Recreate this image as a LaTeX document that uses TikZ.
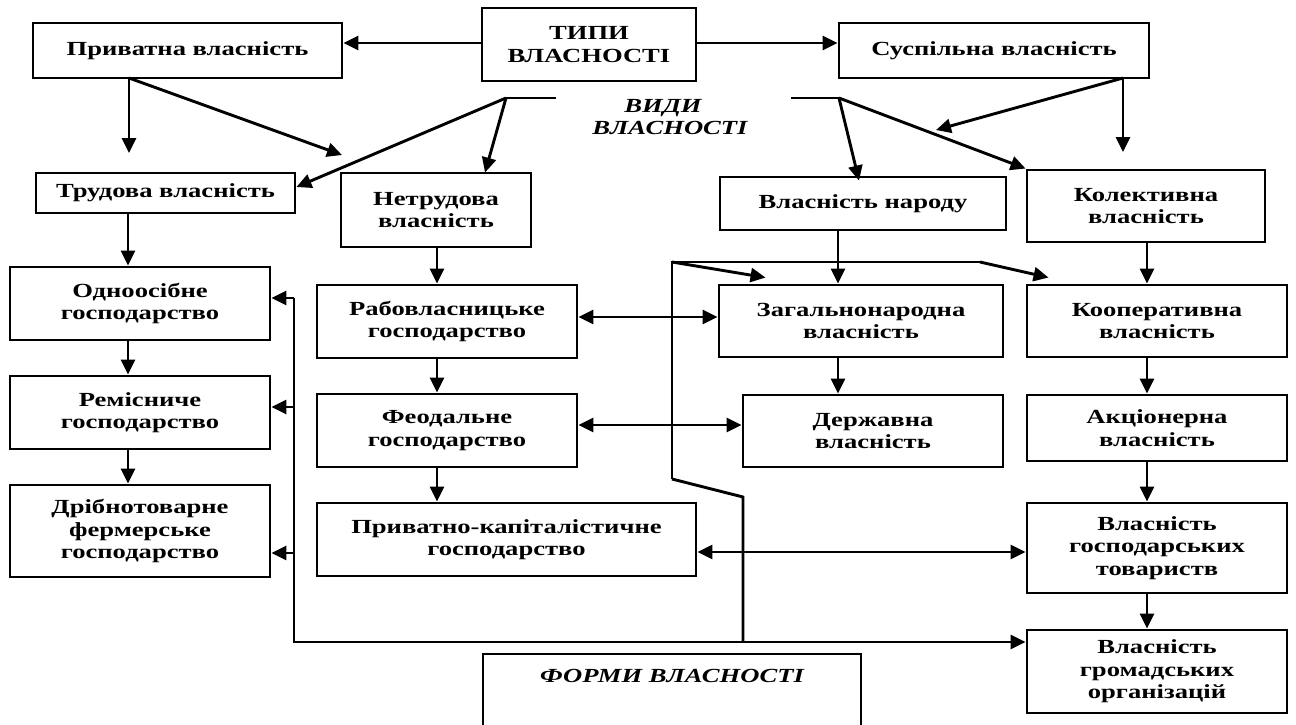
\documentclass[tikz,border=0pt]{standalone}
\usepackage{fontspec}
\setmainfont{Liberation Serif}[FakeStretch=1.33]
\usetikzlibrary{arrows.meta,calc}
\begin{document}
\begin{tikzpicture}[x=1pt,y=-1pt,
  box/.style={draw, line width=2.9pt, align=center, inner sep=2pt,
    font=\bfseries\fontsize{20}{22.5}\selectfont},
  lbl/.style={align=center, font=\bfseries\itshape\fontsize{20}{22.5}\selectfont},
  ln/.style={line width=2.9pt},
  arr/.style={line width=2.9pt, -{Triangle[length=15pt,width=14pt]}},
  darr/.style={line width=2.9pt, {Triangle[length=15pt,width=14pt]}-{Triangle[length=15pt,width=14pt]}}]
\useasboundingbox (0,0) rectangle (1296,724);
% boxes
\node[box, minimum width=309pt, minimum height=55pt] (prv) at (187.5,50.5) {Приватна власність};
\node[box, minimum width=214pt, minimum height=73pt] (types) at (589,44.5) {ТИПИ\\ВЛАСНОСТІ};
\node[box, minimum width=310pt, minimum height=55pt] (sus) at (994,50.5) {Суспільна власність};
\node[box, minimum width=259pt, minimum height=40pt] (trud) at (165.5,193) {Трудова власність};
\node[box, minimum width=190pt, minimum height=74pt] (netr) at (436,210) {Нетрудова\\власність};
\node[box, minimum width=286pt, minimum height=53pt] (narod) at (863,203.5) {Власність народу};
\node[box, minimum width=238pt, minimum height=72pt] (kol) at (1146,206) {Колективна\\власність};
\node[box, minimum width=260pt, minimum height=73pt] (odn) at (140,303.5) {Одноосібне\\господарство};
\node[box, minimum width=260pt, minimum height=73pt] (rab) at (447,321.5) {Рабовласницьке\\господарство};
\node[box, minimum width=284pt, minimum height=72pt] (zag) at (861,321) {Загальнонародна\\власність};
\node[box, minimum width=260pt, minimum height=72pt] (koop) at (1157,321) {Кооперативна\\власність};
\node[box, minimum width=260pt, minimum height=73pt] (rem) at (140,412.5) {Ремісниче\\господарство};
\node[box, minimum width=260pt, minimum height=73pt] (feod) at (447,430.5) {Феодальне\\господарство};
\node[box, minimum width=260pt, minimum height=72pt] (derzh) at (873,431) {Державна\\власність};
\node[box, minimum width=260pt, minimum height=66pt] (akc) at (1157,428) {Акціонерна\\власність};
\node[box, minimum width=260pt, minimum height=92pt] (dribn) at (140,531) {Дрібнотоварне\\фермерське\\господарство};
\node[box, minimum width=379pt, minimum height=73pt] (pk) at (506.5,539.5) {Приватно-капіталістичне\\господарство};
\node[box, minimum width=260pt, minimum height=90pt] (gosp) at (1157,548) {Власність\\господарських\\товариств};
\node[box, minimum width=260pt, minimum height=83pt] (grom) at (1157,671.5) {Власність\\громадських\\організацій};
% labels
\node[lbl] (vydy) at (670,117) {ВИДИ\hspace*{14pt}\\ВЛАСНОСТІ};
\node[lbl] (forms) at (672,676) {ФОРМИ ВЛАСНОСТІ};
\draw[ln] (483,726) -- (483,654) -- (861,654) -- (861,726);
% helper coordinates
\coordinate (y43) at (0,43);
\coordinate (y317) at (0,317);
\coordinate (y425) at (0,425);
\coordinate (y552) at (0,552);
\coordinate (y298) at (0,298);
\coordinate (y407) at (0,407);
\coordinate (y553) at (0,553);
\coordinate (xL) at (128,0);
\coordinate (xM) at (437,0);
\coordinate (xZ) at (838,0);
\coordinate (xR) at (1147,0);
\coordinate (prvB) at (129,78);
\coordinate (prvT1) at (129,153);
\coordinate (prvT2) at (342,155);
\coordinate (susB) at (1123,78);
\coordinate (susT1) at (1123,152);
\coordinate (susT2) at (936,130);
\coordinate (vL) at (506,98);
\coordinate (vLe) at (556,98);
\coordinate (vRs) at (791,98);
\coordinate (vR) at (839,98);
\coordinate (nA) at (672,262);
\coordinate (nB) at (980,262);
\coordinate (nC) at (672,479);
\coordinate (nD) at (743,497);
\coordinate (nE) at (743,642);
\coordinate (lT) at (294,298);
\coordinate (lB) at (294,642);
% top connectors
\draw[arr] (types.west |- y43) -- (prv.east |- y43);
\draw[arr] (types.east |- y43) -- (sus.west |- y43);
\draw[arr] (prvB) -- (prvT1);
\draw[arr] (prvB) -- (prvT2);
\draw[arr] (susB) -- (susT1);
\draw[arr] (susB) -- (susT2);
\draw[ln] (vL) -- (vLe);
\draw[ln] (vRs) -- (vR);
\draw[arr] (vL) -- ($(trud.east)+(0,-6)$);
\draw[arr] (vL) -- ($(netr.north)+(49,1)$);
\draw[arr] (vR) -- ($(narod.north)+(-4,5)$);
\draw[arr] (vR) -- (kol.north west);
% columns
\draw[arr] (trud.south -| xL) -- (odn.north -| xL);
\draw[arr] (odn.south -| xL) -- (rem.north -| xL);
\draw[arr] (rem.south -| xL) -- (dribn.north -| xL);
\draw[arr] (netr.south -| xM) -- (rab.north -| xM);
\draw[arr] (rab.south -| xM) -- (feod.north -| xM);
\draw[arr] (feod.south -| xM) -- (pk.north -| xM);
\draw[arr] (narod.south -| xZ) -- (zag.north -| xZ);
\draw[arr] (zag.south -| xZ) -- (derzh.north -| xZ);
\draw[arr] (kol.south -| xR) -- (koop.north -| xR);
\draw[arr] (koop.south -| xR) -- (akc.north -| xR);
\draw[arr] (akc.south -| xR) -- (gosp.north -| xR);
\draw[arr] (gosp.south -| xR) -- (grom.north -| xR);
% horizontal links
\draw[darr] (rab.east |- y317) -- (zag.west |- y317);
\draw[darr] (feod.east |- y425) -- (derzh.west |- y425);
\draw[darr] (pk.east |- y552) -- (gosp.west |- y552);
% spine
\draw[ln] (nC) -- (nA) -- (nB);
\draw[arr] (nB) -- ($(koop.north west)+(23,-6)$);
\draw[arr] (nA) -- ($(zag.north west)+(48,-6)$);
\draw[ln] (nC) -- (nD) -- (nE);
\draw[arr] (nE) -- (grom.west |- nE);
\draw[ln] (nE) -- (lB) -- (lT);
\draw[arr] (lT) -- (odn.east |- y298);
\draw[arr] (lT |- y407) -- (rem.east |- y407);
\draw[arr] (lT |- y553) -- (dribn.east |- y553);
\end{tikzpicture}
\end{document}
